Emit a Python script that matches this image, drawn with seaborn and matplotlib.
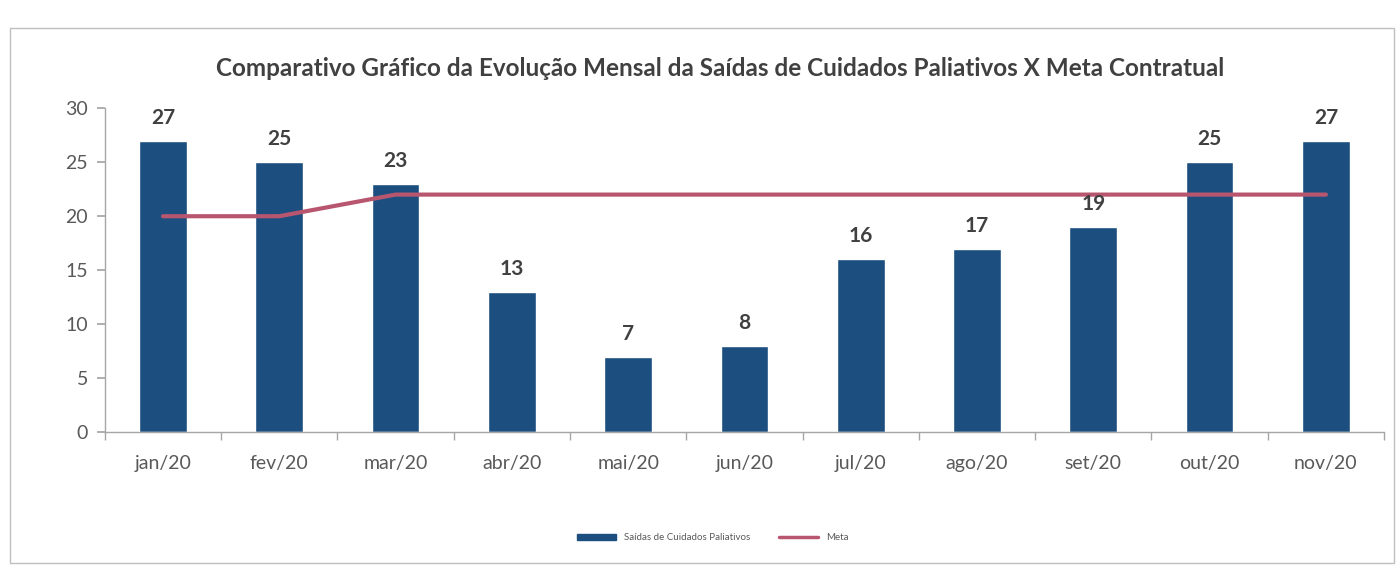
import matplotlib
matplotlib.use("Agg")
import matplotlib.pyplot as plt
import seaborn as sns
import pandas as pd
from matplotlib.patches import Rectangle
from matplotlib.lines import Line2D

months = ["jan/20", "fev/20", "mar/20", "abr/20", "mai/20", "jun/20",
          "jul/20", "ago/20", "set/20", "out/20", "nov/20"]
saidas = [27, 25, 23, 13, 7, 8, 16, 17, 19, 25, 27]
meta = [20, 20, 22, 22, 22, 22, 22, 22, 22, 22, 22]

title = "Comparativo Gráfico da Evolução Mensal da Saídas de Cuidados Paliativos X Meta Contratual"
bar_label = "Saídas de Cuidados Paliativos"
line_label = "Meta"

bar_color = "#1c4f7f"
line_color = "#b8566f"
text_gray = "#595959"

sns.set_theme(style="white")
plt.rcParams["font.family"] = ["Lato", "DejaVu Sans"]

df = pd.DataFrame({"mes": months, "saidas": saidas, "meta": meta})

fig = plt.figure(figsize=(13.98, 5.69), dpi=100)
ax = fig.add_axes([0.075, 0.24, 0.915, 0.57])

sns.barplot(data=df, x="mes", y="saidas", color=bar_color, width=0.41,
            saturation=1, ax=ax)
sns.lineplot(x=list(range(len(months))), y=meta, color=line_color,
             linewidth=3, ax=ax)

for i, v in enumerate(saidas):
    ax.text(i, v + 1.2, str(v), ha="center", va="bottom", fontsize=15,
            fontweight="bold", color="#404040")

ax.set_ylim(0, 30)
ax.set_xlim(-0.5, len(months) - 0.5)
ax.set_yticks(range(0, 31, 5))
ax.set_xlabel("")
ax.set_ylabel("")
for s in ["top", "right"]:
    ax.spines[s].set_visible(False)
for s in ["left", "bottom"]:
    ax.spines[s].set_color("#a6a6a6")
    ax.spines[s].set_linewidth(1)
ax.tick_params(axis="y", left=True, length=6, color="#a6a6a6",
               labelsize=14, labelcolor=text_gray, pad=6)
ax.tick_params(axis="x", bottom=False, labelsize=14, labelcolor=text_gray, pad=10)
ax.set_xticks([i + 0.5 for i in range(-1, len(months))], minor=True)
ax.tick_params(axis="x", which="minor", bottom=True, length=6, color="#a6a6a6")

fig.text(0.515, 0.88, title, ha="center", va="center", fontsize=17.5,
         fontweight="bold", color="#404040")

handles = [Rectangle((0, 0), 1, 1, color=bar_color),
           Line2D([0], [0], color=line_color, linewidth=2.5)]
fig.legend(handles, [bar_label, line_label], loc="center",
           bbox_to_anchor=(0.51, 0.055), ncol=2, frameon=False,
           fontsize=7, labelcolor=text_gray, handlelength=4,
           handleheight=0.5, columnspacing=3)

border = Rectangle((0.007, 0.01), 0.99, 0.94, transform=fig.transFigure,
                   fill=False, edgecolor="#bfbfbf", linewidth=1)
fig.patches.append(border)

fig.savefig("out.png", dpi=100)
